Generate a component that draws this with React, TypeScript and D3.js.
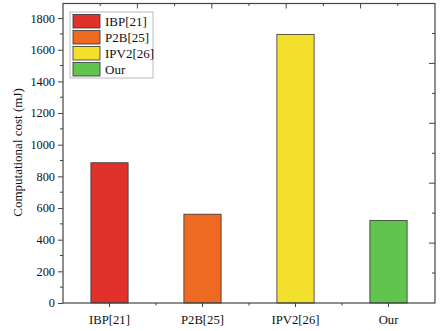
import { useEffect, useRef } from "react";
import * as d3 from "d3";

const categories = ["IBP[21]", "P2B[25]", "IPV2[26]", "Our"];
const costs = [886, 561, 1697, 521];
const barColors = ["#e0322a", "#ee6a22", "#f2e02d", "#60c44f"];
const yTicks = [0, 200, 400, 600, 800, 1000, 1200, 1400, 1600, 1800];

const App = () => {
  const svgRef = useRef<SVGSVGElement>(null);
  const width = 440;
  const height = 331;
  const margin = { top: 3.5, right: 5, bottom: 28, left: 63 };
  const font = "'Liberation Serif', 'Times New Roman', serif";
  const axisColor = "#444";
  const textColor = "#111";

  useEffect(() => {
    const svg = d3.select(svgRef.current);
    svg.selectAll("*").remove();

    const x0 = margin.left;
    const x1 = width - margin.right;
    const y0 = height - margin.bottom;
    const y1 = margin.top;

    const xScale = d3.scaleBand().domain(categories).range([x0, x1]).paddingInner(0.6).paddingOuter(0.3);
    const yScale = d3.scaleLinear().domain([0, 1892]).range([y0, y1]);
    // Origin-style frame axes (no data on them)
    const topScale = d3.scaleLinear().domain([0, 5]).range([x0, x1]);
    const rightScale = d3.scaleLinear().domain([0, 10]).range([y0, y1]);
    const bandStep = (x1 - x0) / categories.length;

    // Bars
    svg
      .selectAll("rect.bar")
      .data(costs)
      .enter()
      .append("rect")
      .attr("class", "bar")
      .attr("x", (d, i) => xScale(categories[i]) as number)
      .attr("y", (d) => yScale(d))
      .attr("width", xScale.bandwidth())
      .attr("height", (d) => y0 - yScale(d))
      .attr("fill", (d, i) => barColors[i])
      .attr("stroke", "#333")
      .attr("stroke-width", 0.8);

    // Left axis
    const yAxis = d3
      .axisLeft(yScale)
      .tickValues(yTicks)
      .tickSize(5)
      .tickPadding(3)
      .tickFormat(d3.format("d"));
    const gy = svg.append("g").attr("transform", `translate(${x0},0)`).call(yAxis);
    gy.select(".domain").remove();
    gy.selectAll("line").attr("stroke", axisColor);
    gy.selectAll("text").style("font-family", font).style("font-size", "12.3px").attr("fill", textColor);
    // minor ticks left
    gy.selectAll("line.minor")
      .data(d3.range(100, 1900, 200))
      .enter()
      .append("line")
      .attr("class", "minor")
      .attr("x1", -3)
      .attr("x2", 0)
      .attr("y1", (d) => yScale(d))
      .attr("y2", (d) => yScale(d))
      .attr("stroke", axisColor);

    // Bottom axis
    const xAxis = d3.axisBottom(xScale).tickSize(4).tickPadding(7.5);
    const gx = svg.append("g").attr("transform", `translate(0,${y0})`).call(xAxis);
    gx.select(".domain").remove();
    gx.selectAll("line").attr("stroke", axisColor);
    gx.selectAll("text").style("font-family", font).style("font-size", "12.7px").attr("fill", textColor);
    gx.selectAll("line.minor")
      .data(d3.range(1, categories.length))
      .enter()
      .append("line")
      .attr("class", "minor")
      .attr("x1", (d) => x0 + d * bandStep)
      .attr("x2", (d) => x0 + d * bandStep)
      .attr("y1", 0)
      .attr("y2", 2.5)
      .attr("stroke", axisColor);

    // Top frame ticks (inward)
    svg
      .append("g")
      .selectAll("line")
      .data(d3.range(0.5, 5, 0.5))
      .enter()
      .append("line")
      .attr("x1", (d) => topScale(d))
      .attr("x2", (d) => topScale(d))
      .attr("y1", y1)
      .attr("y2", (d) => y1 + (d % 1 === 0 ? 5 : 2.5))
      .attr("stroke", axisColor);

    // Right frame ticks (inward)
    svg
      .append("g")
      .selectAll("line")
      .data(d3.range(1, 10))
      .enter()
      .append("line")
      .attr("x1", x1)
      .attr("x2", (d) => x1 - (d % 2 === 0 ? 6 : 3))
      .attr("y1", (d) => rightScale(d))
      .attr("y2", (d) => rightScale(d))
      .attr("stroke", axisColor);

    // Frame
    svg
      .append("rect")
      .attr("x", x0)
      .attr("y", y1)
      .attr("width", x1 - x0)
      .attr("height", y0 - y1)
      .attr("fill", "none")
      .attr("stroke", axisColor)
      .attr("stroke-width", 1.2);

    // Y Axis Label
    svg
      .append("text")
      .attr("transform", "rotate(-90)")
      .attr("x", -152.5)
      .attr("y", 22)
      .attr("text-anchor", "middle")
      .style("font-family", font)
      .style("font-size", "13px")
      .attr("fill", textColor)
      .text("Computational cost (mJ)");

    // Legend
    const legend = svg.append("g").attr("transform", "translate(70,12)");
    legend
      .append("rect")
      .attr("width", 83)
      .attr("height", 66)
      .attr("fill", "#fff")
      .attr("stroke", "#aaa")
      .attr("stroke-width", 0.8);
    const rows = legend
      .selectAll("g.row")
      .data(categories)
      .enter()
      .append("g")
      .attr("class", "row")
      .attr("transform", (d, i) => `translate(3,${2.5 + i * 16})`);
    rows
      .append("rect")
      .attr("width", 27)
      .attr("height", 13.5)
      .attr("fill", (d, i) => barColors[i])
      .attr("stroke", "#333")
      .attr("stroke-width", 0.8);
    rows
      .append("text")
      .attr("x", 32)
      .attr("y", 11)
      .style("font-family", font)
      .style("font-size", "13px")
      .attr("fill", textColor)
      .text((d) => d);
  }, []);

  return (
    <svg
      ref={svgRef}
      width={width}
      height={height}
      style={{ position: "absolute", left: 0, top: 0, background: "#fff" }}
    ></svg>
  );
};

export default App;
